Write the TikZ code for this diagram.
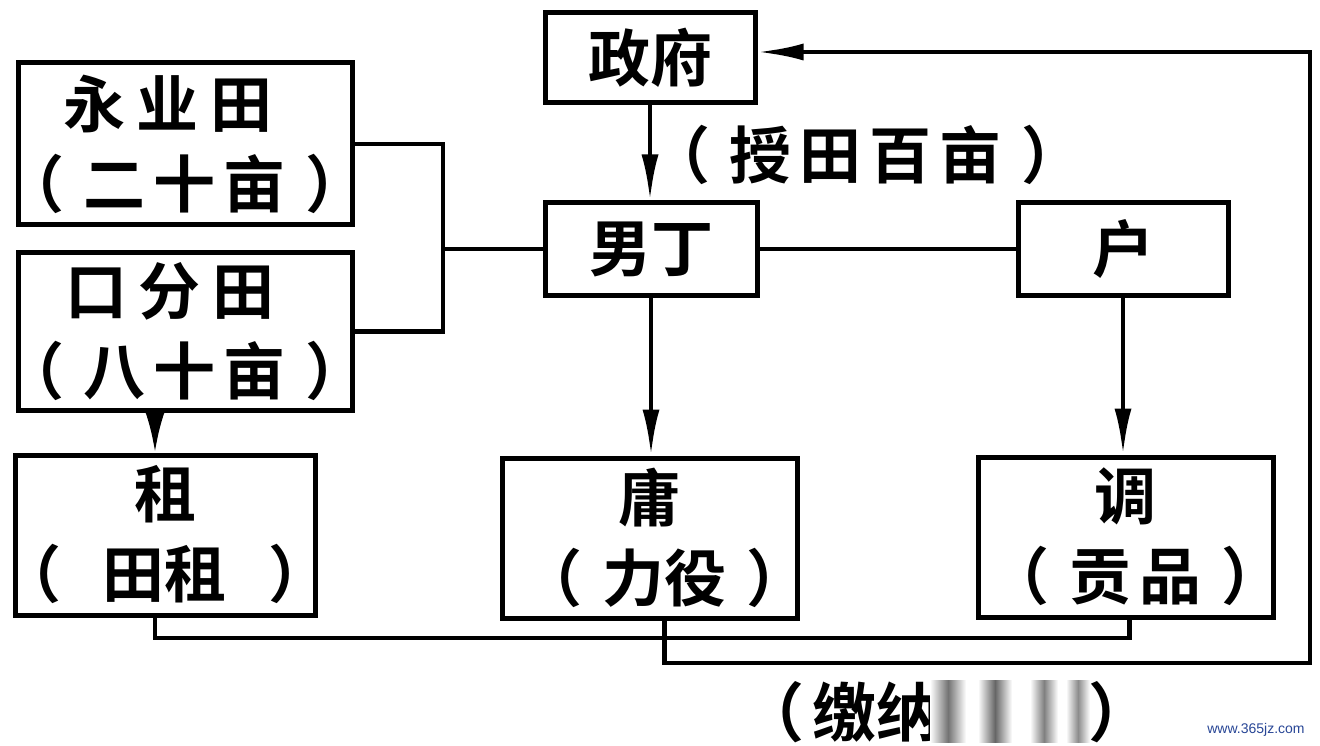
\documentclass[tikz,border=0pt]{standalone}
\usepackage{fontspec}
\setmainfont{Noto Sans CJK SC}[BoldFont={Noto Sans CJK SC Bold}]
\newfontfamily\wmfont{Liberation Sans}
\usetikzlibrary{arrows.meta}
\newcommand\LP{（\hspace{20pt}}
\newcommand\RP{\hspace{20pt}）}
\newcommand\gp{\hspace{8pt}}
\newcommand\wg{\hspace{12pt}}
\newcommand\cl[1]{\makebox[0pt]{#1}}
\begin{document}
\begin{tikzpicture}[x=1pt,y=-1pt,
  box/.style={draw=black,line width=5pt,rectangle,inner sep=0pt,align=center,
    font=\fontsize{62}{80}\selectfont\bfseries},
  conn/.style={draw=black,line width=4.5pt},
  arr/.style={conn,-{Latex[length=46pt,width=17pt]}},
  lbl/.style={inner sep=0pt,font=\fontsize{62}{80}\selectfont\bfseries}]
\useasboundingbox[fill=white] (0,0) rectangle (1320,746);
% boxes
\node[box,minimum width=334pt,minimum height=162pt] (yong) at (185,144)
  {\cl{永\wg 业\wg 田\hspace{34pt}}\\\cl{\LP 二\gp 十\gp 亩\RP}};
\node[box,minimum width=334pt,minimum height=157pt] (kou) at (185,331.5)
  {\cl{口\wg 分\wg 田\hspace{30pt}}\\\cl{\LP 八\gp 十\gp 亩\RP}};
\node[box,minimum width=210pt,minimum height=90pt] (zf) at (650,58) {政府};
\node[box,minimum width=212pt,minimum height=92pt] (nd) at (651,249) {男丁};
\node[box,minimum width=210pt,minimum height=92pt] (hu) at (1123,249) {户};
\node[box,minimum width=300pt,minimum height=160pt] (zu) at (165,535)
  {\cl{租}\\\cl{（\hspace{42pt}田租\hspace{42pt}）}};
\node[box,minimum width=295pt,minimum height=160pt] (yo) at (649.5,538)
  {\cl{庸}\\\cl{\hspace{30pt}\LP 力役\RP}};
\node[box,minimum width=295pt,minimum height=160pt] (ti) at (1125.5,537)
  {\cl{调}\\\cl{\hspace{20pt}\LP 贡\gp 品\RP}};
% label
\node[lbl] (shou) at (866,155) {\LP 授\gp 田\gp 百\gp 亩\RP};
% bracket
\coordinate (bj) at (443,249);
\draw[conn] (yong.east) -| (bj) |- (kou.east);
\draw[conn] (bj) -- (nd.west);
\draw[conn] (nd.east) -- (hu.west);
% arrows
\draw[arr] (zf.south) -- (zf.south |- nd.north);
\draw[arr] (nd.south) -- (nd.south |- yo.north);
\draw[arr] (hu.south) -- (hu.south |- ti.north);
\draw[conn,-{Latex[length=44pt,width=22pt]}] ([xshift=-30pt]kou.south) -- ([xshift=-30pt]kou.south |- zu.north);
% bottom lines
\coordinate (lowA) at (0,638);
\coordinate (rc) at (1310,663);
\draw[conn] ([xshift=-10pt]zu.south) |- ([xshift=4pt]ti.south |- lowA) -- ([xshift=4pt]ti.south);
\draw[arr] ([xshift=15pt]yo.south) |- (rc) |- ([yshift=6pt]zf.east);
% bottom partially hidden text
\node[lbl,anchor=west,font=\fontsize{64}{64}\selectfont\bfseries] (jiao) at (740,712) {（\hspace{8pt}缴纳};
\fill[white] (930,675) rectangle (1140,746);
\shade[left color=white,right color=white,middle color=black!55] (930,680) rectangle (966,742);
\shade[left color=white,right color=white,middle color=black!60] (978,680) rectangle (1012,742);
\shade[left color=white,right color=white,middle color=black!50] (1030,680) rectangle (1058,742);
\shade[left color=white,right color=white,middle color=black!45] (1066,680) rectangle (1090,742);
\node[lbl,anchor=west,font=\fontsize{64}{64}\selectfont\bfseries] (rp) at (1088,712) {）};
\node[inner sep=0pt,font=\wmfont\fontsize{14}{14}\selectfont,text={rgb,255:red,40;green,70;blue,150}] (wm) at (1256,730) {www.365jz.com};
\end{tikzpicture}
\end{document}
